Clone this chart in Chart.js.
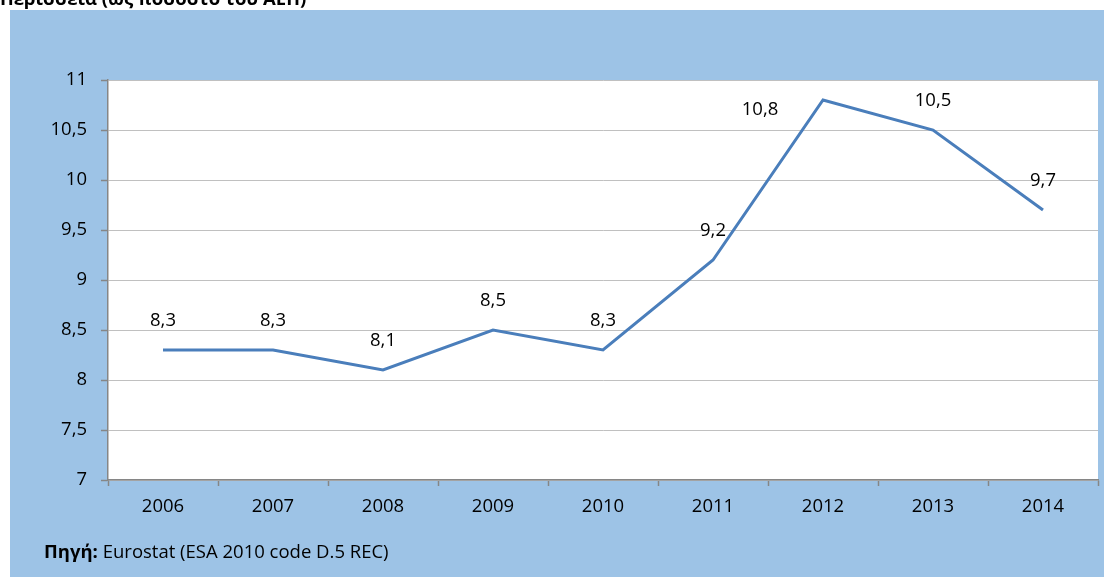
<!DOCTYPE html>
<html>
<head>
<meta charset="utf-8">
<script src="https://cdn.jsdelivr.net/npm/chart.js@4"></script>
<style>
  body { margin:0; background:#fff; }
  #wrap { position:relative; width:1104px; height:578px; overflow:hidden; }
  #title { position:absolute; left:0; top:-11px; font:bold 18.5px 'Open Sans', sans-serif; line-height:18px; color:#000; white-space:nowrap; }
  #source { position:absolute; left:44px; top:539px; font:18.5px 'Open Sans', sans-serif; line-height:24px; color:#000; white-space:nowrap; }
</style>
</head>
<body>
<div id="wrap">
  <canvas id="surplusChart" width="1104" height="578"></canvas>
  <div id="title">Περίσσεια (ως ποσοστό του ΑΕΠ)</div>
  <div id="source"><b>Πηγή:</b> Eurostat (ESA 2010 code D.5 REC)</div>
</div>
<script>
const years = ['2006','2007','2008','2009','2010','2011','2012','2013','2014'];
const surplus = [8.3, 8.3, 8.1, 8.5, 8.3, 9.2, 10.8, 10.5, 9.7];
const yMin = 7, yMax = 11, yStep = 0.5;

const fmt = v => v.toString().replace('.', ',');

// blue frame + white plot area
const backdrop = {
    id: 'backdrop',
    beforeDraw(chart) {
        const { ctx, chartArea: a } = chart;
        ctx.save();
        ctx.fillStyle = '#9dc3e6';
        ctx.fillRect(10, 10, chart.width - 10, chart.height - 11);
        ctx.fillStyle = '#ffffff';
        ctx.fillRect(a.left, a.top, a.right - a.left, a.bottom - a.top);
        ctx.restore();
    }
};

// value labels above each point (the 2012 one sits left of the peak)
const valueLabels = {
    id: 'valueLabels',
    afterDatasetsDraw(chart, args, opts) {
        const { ctx } = chart;
        const meta = chart.getDatasetMeta(0);
        ctx.save();
        ctx.font = '18.5px "Open Sans", sans-serif';
        ctx.fillStyle = '#000';
        ctx.textAlign = 'center';
        ctx.textBaseline = 'alphabetic';
        meta.data.forEach((pt, i) => {
            const off = opts.offsets[i] || [0, -24];
            ctx.fillText(fmt(surplus[i]), pt.x + off[0], pt.y + off[1]);
        });
        ctx.restore();
    }
};

new Chart(document.getElementById('surplusChart'), {
    type: 'line',
    data: {
        labels: years,
        datasets: [{
            data: surplus,
            borderColor: '#4a7ebb',
            borderWidth: 3,
            pointRadius: 0,
            tension: 0,
            fill: false
        }]
    },
    options: {
        responsive: false,
        animation: false,
        layout: { padding: { left: 10, top: 80, right: 6, bottom: 0 } },
        plugins: {
            legend: { display: false },
            tooltip: { enabled: false },
            valueLabels: { offsets: { 6: [-63, 15] } }
        },
        scales: {
            x: {
                offset: true,
                grid: { offset: true, drawOnChartArea: false, tickLength: 6, tickColor: '#868686', tickWidth: 1.5 },
                border: { color: '#868686', width: 1.5 },
                ticks: { color: '#000', font: { family: 'Open Sans', size: 18.5 }, padding: 10, maxRotation: 0 },
                afterFit(s) { s.height = 98; }
            },
            y: {
                min: yMin,
                max: yMax,
                grid: { color: '#c0c0c0', lineWidth: 1, tickLength: 7, tickColor: '#868686', tickWidth: 1.5 },
                border: { color: '#868686', width: 1.5 },
                ticks: { stepSize: yStep, color: '#000', font: { family: 'Open Sans', size: 18.5 }, padding: 14, callback: v => fmt(v) },
                afterFit(s) { s.width = 98; }
            }
        }
    },
    plugins: [backdrop, valueLabels]
});
</script>
</body>
</html>
